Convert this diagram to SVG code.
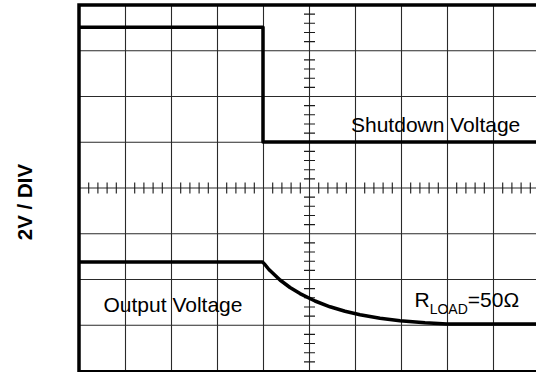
<svg xmlns="http://www.w3.org/2000/svg" width="536" height="372" viewBox="0 0 536 372">
<style>
.grid{stroke:#2a2a2a;stroke-width:1.1;fill:none}
.tick{stroke:#1a1a1a;stroke-width:1.1;fill:none}
.frame{stroke:#000;stroke-width:3.5;fill:none;stroke-linecap:square}
.trace{stroke:#000;stroke-width:3.5;fill:none;stroke-linejoin:round}
.lbl{font-family:"Liberation Sans",Arial,sans-serif;font-size:21px;fill:#000}
.axis{font-family:"Liberation Sans",Arial,sans-serif;font-size:20.5px;font-weight:bold;fill:#000}
</style>
<rect width="536" height="372" fill="#fff"/>
<g id="grid">
<path class="grid" d="M125.5,5V372M171.5,5V372M217.5,5V372M263.5,5V372M309.5,5V372M355.5,5V372M401.5,5V372M447.5,5V372M493.5,5V372"/>
<path class="grid" d="M79,50.75H536M79,96.5H536M79,142.25H536M79,188H536M79,233.75H536M79,279.5H536M79,325.25H536M79,371H536"/>
</g>
<g id="ticks">
<path class="tick" d="M88.7,182.5v11M97.9,182.5v11M107.1,182.5v11M116.3,182.5v11M134.7,182.5v11M143.9,182.5v11M153.1,182.5v11M162.3,182.5v11M180.7,182.5v11M189.9,182.5v11M199.1,182.5v11M208.3,182.5v11M226.7,182.5v11M235.9,182.5v11M245.1,182.5v11M254.3,182.5v11M272.7,182.5v11M281.9,182.5v11M291.1,182.5v11M300.3,182.5v11M318.7,182.5v11M327.9,182.5v11M337.1,182.5v11M346.3,182.5v11M364.7,182.5v11M373.9,182.5v11M383.1,182.5v11M392.3,182.5v11M410.7,182.5v11M419.9,182.5v11M429.1,182.5v11M438.3,182.5v11M456.7,182.5v11M465.9,182.5v11M475.1,182.5v11M484.3,182.5v11M502.7,182.5v11M511.9,182.5v11M521.1,182.5v11M530.3,182.5v11"/>
<path class="tick" d="M304,14.15h11M304,23.3h11M304,32.45h11M304,41.6h11M304,59.9h11M304,69.05h11M304,78.2h11M304,87.35h11M304,105.65h11M304,114.8h11M304,123.95h11M304,133.1h11M304,151.4h11M304,160.55h11M304,169.7h11M304,178.85h11M304,197.15h11M304,206.3h11M304,215.45h11M304,224.6h11M304,242.9h11M304,252.05h11M304,261.2h11M304,270.35h11M304,288.65h11M304,297.8h11M304,306.95h11M304,316.1h11M304,334.4h11M304,343.55h11M304,352.7h11M304,361.85h11"/>
</g>
<g id="frame">
<path class="frame" d="M79,372V5H536"/>
<path stroke="#000" stroke-width="2" d="M79,371H536"/>
</g>
<g id="traces">
<path id="shutdown" class="trace" d="M79,27.3H263V142H536"/>
<path id="output" class="trace" d="M79,262H262.5C266,265 268,269 270,270.5L280,280L290,287.5L300,293.6L315,301L330,306.8L345,311.3L360,314.8L380,318.3L400,320.8L425,322.8L447,324H536"/>
</g>
<g id="labels">
<text class="lbl" x="351" y="132">Shutdown Voltage</text>
<text class="lbl" x="103.5" y="311.7">Output Voltage</text>
<text class="lbl" x="414.5" y="306.7">R<tspan font-size="14" dy="7.5">LOAD</tspan><tspan dy="-7.5">=50Ω</tspan></text>
<text class="axis" transform="translate(32.3,202) rotate(-90)" text-anchor="middle">2V / DIV</text>
</g>
</svg>
